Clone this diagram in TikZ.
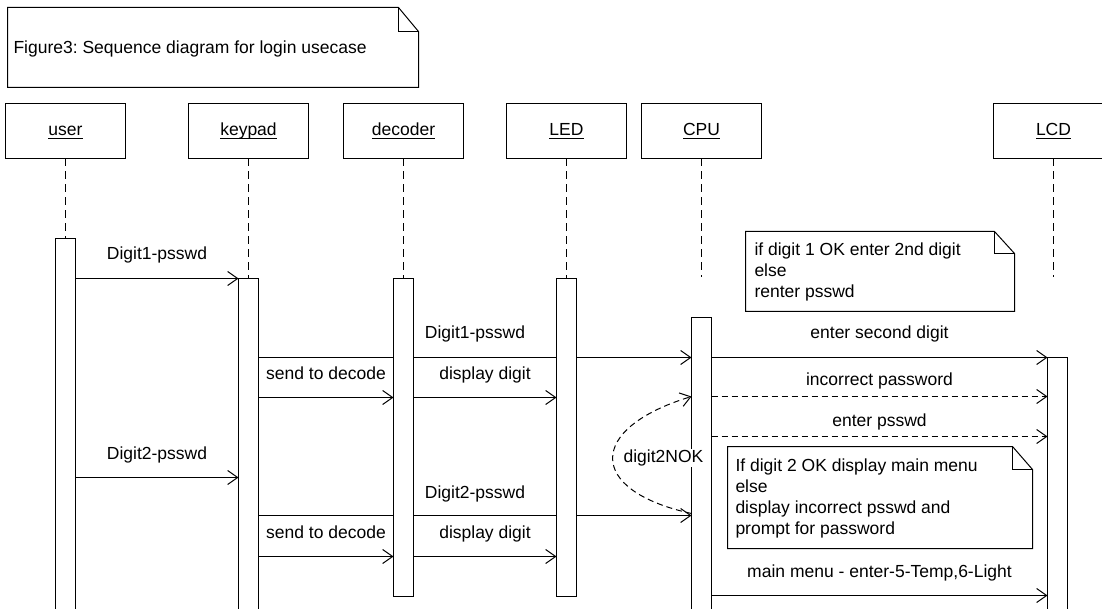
\documentclass[tikz,border=0pt]{standalone}
\usepackage{fontspec}
\setmainfont{Liberation Sans}
\frenchspacing
\usetikzlibrary{arrows.meta}
\pgfdeclarelayer{back}
\pgfdeclarelayer{bg}
\pgfsetlayers{back,bg,main}
\begin{document}
\begin{tikzpicture}[x=1pt,y=-1pt,line width=1pt,
  every node/.style={font=\fontsize{17.5}{21}\selectfont, inner sep=0pt, outer sep=0pt},
  hdbox/.style={draw, line width=1pt, minimum width=120pt, minimum height=55pt},
  hdtxt/.style={anchor=base},
  actbar/.style={draw, line width=1pt, fill=white, minimum width=20pt, anchor=north},
  life/.style={line width=1pt, dash pattern=on 8pt off 5pt},
  msg/.style={line width=1pt, -{Straight Barb[length=10pt,width=14pt]}},
  reply/.style={msg, dash pattern=on 6pt off 4pt},
  lbl/.style={midway, anchor=base, yshift=#1},
  notetxt/.style={anchor=north west, align=left},
  notebox/.style={line width=1pt},
  ul/.style={line width=0.9pt},
]
\begin{pgfonlayer}{back}
  \fill[white] (0,0) rectangle (1102,609);
\end{pgfonlayer}
\useasboundingbox (0,0) rectangle (1102,609);

\begin{scope}[shift={(0.5,0.5)}]
% title note
\draw[notebox] (7,7) -- (398,7) -- (418,31) -- (418,87) -- (7,87) -- cycle;
\draw[notebox] (398,7) -- (398,31) -- (418,31);
\node[anchor=base west] (title) at (13,53) {Figure3: Sequence diagram for login usecase};

% headers
\node[hdbox] (user) at (65,130.5) {};
\node[hdtxt] (userT) at (65,135.5) {user};
\node[hdbox] (key) at (248,130.5) {};
\node[hdtxt] (keyT) at (248,135.5) {keypad};
\node[hdbox] (dec) at (403,130.5) {};
\node[hdtxt] (decT) at (403,135.5) {decoder};
\node[hdbox] (led) at (566,130.5) {};
\node[hdtxt] (ledT) at (566,135.5) {LED};
\node[hdbox] (cpu) at (701,130.5) {};
\node[hdtxt] (cpuT) at (701,135.5) {CPU};
\node[hdbox] (lcd) at (1053,130.5) {};
\node[hdtxt] (lcdT) at (1053,135.5) {LCD};
\foreach \n in {userT,keyT,decT,ledT,cpuT,lcdT}{
  \draw[ul] ([yshift=-2.5pt]\n.base west) -- ([yshift=-2.5pt]\n.base east);
}

% activation bars
\node[actbar, minimum height=380pt] (userA) at (65,238) {};
\node[actbar, minimum height=340pt] (keyA) at (248,278) {};
\node[actbar, minimum height=318pt] (decA) at (403,278) {};
\node[actbar, minimum height=318pt] (ledA) at (566,278) {};
\node[actbar, minimum height=301pt] (cpuA) at (701,317) {};
\node[actbar, minimum height=261pt] (lcdA) at (1057,357) {};

\coordinate (cpuEnd) at (701,277);
\coordinate (lcdEnd) at (1053,277);
\coordinate (y1) at (0,278);
\coordinate (y2) at (0,357);
\coordinate (y3) at (0,397);
\coordinate (y6) at (0,396);
\coordinate (y7) at (0,436);
\coordinate (y8) at (0,477);
\coordinate (y9) at (0,515);
\coordinate (y10) at (0,556);
\coordinate (y12) at (0,595);
\coordinate (ya) at (0,513);
\coordinate (yb) at (0,396);

\begin{pgfonlayer}{bg}
  % lifelines
  \draw[life] (user.south) -- (userA.north);
  \draw[life] (key.south) -- (keyA.north);
  \draw[life] (dec.south) -- (decA.north);
  \draw[life] (led.south) -- (ledA.north);
  \draw[life] (cpu.south) -- (cpuEnd);
  \draw[life] (lcd.south) -- (lcdEnd);

  % messages
  \draw[msg] (userA.east |- y1) -- (keyA.west |- y1) node[lbl=19pt] (l1) {Digit1-psswd};
  \draw[msg] (keyA.east |- y2) -- (cpuA.west |- y2) node[lbl=19pt] (l2) {Digit1-psswd};
  \draw[msg] (keyA.east |- y3) -- (decA.west |- y3) node[lbl=18pt] (l3) {send to decode};
  \draw[msg] (decA.east |- y3) -- (ledA.west |- y3) node[lbl=18pt] (l4) {display digit};
  \draw[msg] (cpuA.east |- y2) -- (lcdA.west |- y2) node[lbl=19pt] (l5) {enter second digit};
  \draw[reply] (cpuA.east |- y6) -- (lcdA.west |- y6) node[lbl=11pt] (l6) {incorrect password};
  \draw[reply] (cpuA.east |- y7) -- (lcdA.west |- y7) node[lbl=10pt] (l7) {enter psswd};
  \draw[msg] (userA.east |- y8) -- (keyA.west |- y8) node[lbl=18pt] (l8) {Digit2-psswd};
  \draw[msg] (keyA.east |- y9) -- (cpuA.west |- y9) node[lbl=17pt] (l9) {Digit2-psswd};
  \draw[msg] (keyA.east |- y10) -- (decA.west |- y10) node[lbl=18pt] (l10) {send to decode};
  \draw[msg] (decA.east |- y10) -- (ledA.west |- y10) node[lbl=18pt] (l11) {display digit};
  \draw[msg] (cpuA.east |- y12) -- (lcdA.west |- y12) node[lbl=18pt] (l12) {main menu - enter-5-Temp,6-Light};
  % self message
  \draw[reply] (cpuA.west |- ya) .. controls (586,490) and (586,428) .. (cpuA.west |- yb);
\end{pgfonlayer}

\node[fill=white, inner sep=1pt, anchor=base] (nok) at (663,462) {digit2NOK};

% note 1
\draw[notebox, fill=white] (745,231) -- (994,231) -- (1014,253) -- (1014,311) -- (745,311) -- cycle;
\draw[notebox] (994,231) -- (994,253) -- (1014,253);
\node[notetxt] (n1) at (754,242.5) {if digit 1 OK enter 2nd digit\\else\\renter psswd};

% note 2
\draw[notebox, fill=white] (727,446) -- (1012,446) -- (1032,469) -- (1032,548) -- (727,548) -- cycle;
\draw[notebox] (1012,446) -- (1012,469) -- (1032,469);
\node[notetxt] (n2) at (735,458.5) {If digit 2 OK display main menu\\else\\display incorrect psswd and\\prompt for password};
\end{scope}
\end{tikzpicture}
\end{document}
